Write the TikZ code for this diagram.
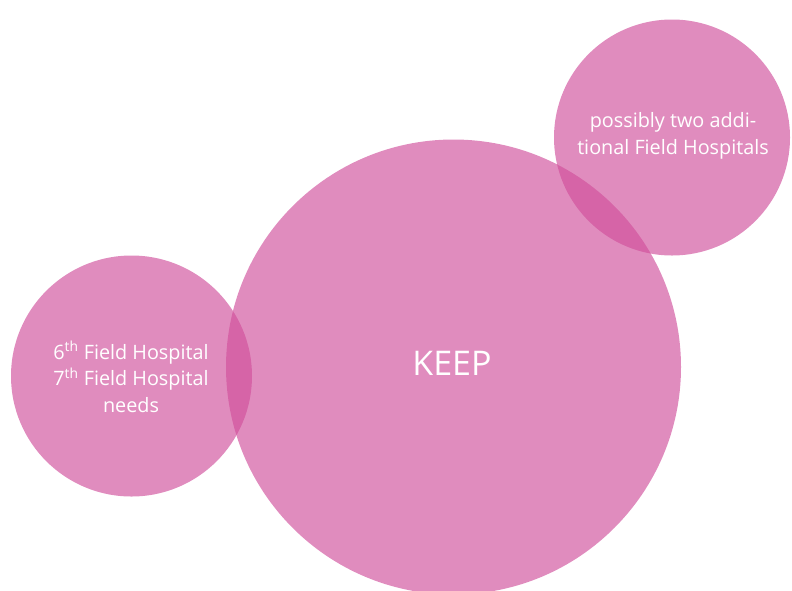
\documentclass[tikz,border=0pt]{standalone}
\usepackage{fontspec}
\setmainfont{Open Sans}
\definecolor{bubble}{RGB}{208,79,155}
\begin{document}
\begin{tikzpicture}[x=1pt,y=-1pt,
  bub/.style={circle,fill=bubble,fill opacity=0.65,draw=none,inner sep=0pt},
  lbl/.style={text=white,align=center,font=\fontsize{19.8}{26.5}\selectfont}]
\useasboundingbox (0,0) rectangle (792,590);
\node[bub,minimum size=455pt] (big) at (453.5,367) {};
\node[bub,minimum size=241pt] (left) at (131.5,376) {};
\node[bub,minimum size=236pt] (tr) at (672,137.5) {};
\node[lbl] (lt) at (131,377) {6\textsuperscript{th} Field Hospital\\7\textsuperscript{th} Field Hospital\\needs};
\node[lbl] (trt) at (673,136) {possibly two addi-\\tional Field Hospitals};
\node[text=white,font=\fontsize{34}{40}\selectfont] (keep) at (452,363) {KEEP};
\end{tikzpicture}
\end{document}
